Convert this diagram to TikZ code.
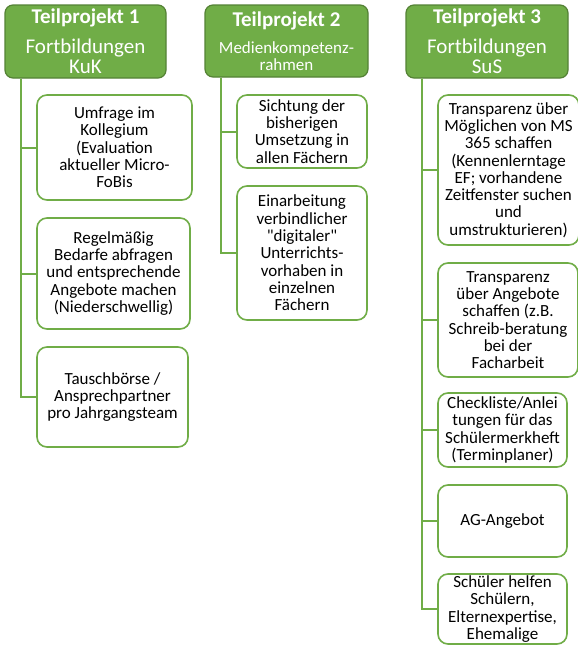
\documentclass[tikz,border=0pt]{standalone}
\usepackage{fontspec}
\setmainfont{Carlito}[Ligatures=TeXOff]
\definecolor{grn}{HTML}{70AD47}
\definecolor{grnd}{HTML}{548235}
\begin{document}
\begin{tikzpicture}[x=1pt,y=-1pt,
  hdr/.style={draw=grnd, fill=grn, line width=1.2pt, rounded corners=8pt, text=white, align=center, inner sep=0pt},
  item/.style={draw=grn, fill=white, line width=1.6pt, rounded corners=10pt, text=black, align=center, inner sep=0pt, font=\fontsize{17}{17.3}\selectfont},
  conn/.style={draw=grn, line width=2pt}]
\clip (0,0) rectangle (578,645);
\fill[white] (0,0) rectangle (578,645);

% headers
\node[hdr, minimum width=161pt, minimum height=73pt, font=\fontsize{21}{20}\selectfont] (h1) at (85.5,41.5)
  {{\bfseries Teilprojekt 1}\\[10pt]Fortbildungen\\KuK};
\node[hdr, minimum width=163pt, minimum height=72pt, font=\fontsize{17}{17}\selectfont] (h2) at (286.5,41)
  {{\bfseries\fontsize{21}{17}\selectfont Teilprojekt 2}\\[10pt]Medienkompetenz-\\rahmen};
\node[hdr, minimum width=162pt, minimum height=73pt, font=\fontsize{21}{20}\selectfont] (h3) at (487,41.5)
  {{\bfseries Teilprojekt 3}\\[10pt]Fortbildungen\\SuS};

% Teilprojekt 1
\node[item, minimum width=155pt, minimum height=105pt] (c1) at (114.5,147.5)
  {Umfrage im\\Kollegium\\(Evaluation\\aktueller Micro-\\FoBis};
\node[item, minimum width=153pt, minimum height=111pt] (c2) at (113.5,273.5)
  {Regelmäßig\\Bedarfe abfragen\\und entsprechende\\Angebote machen\\(Niederschwellig)};
\node[item, minimum width=151pt, minimum height=100pt] (c3) at (112.5,397)
  {Tauschbörse /\\Ansprechpartner\\pro Jahrgangsteam};

% Teilprojekt 2
\node[item, minimum width=130pt, minimum height=73pt] (d1) at (302,131.5)
  {Sichtung der\\bisherigen\\Umsetzung in\\allen Fächern};
\node[item, minimum width=130pt, minimum height=134pt] (d2) at (302,253)
  {Einarbeitung\\verbindlicher\\"digitaler"\\Unterrichts-\\vorhaben in\\einzelnen\\Fächern};

% Teilprojekt 3
\node[item, minimum width=141pt, minimum height=150pt] (f1) at (508.5,170)
  {Transparenz über\\Möglichen von MS\\365 schaffen\\(Kennenlerntage\\EF; vorhandene\\Zeitfenster suchen\\und\\umstrukturieren)};
\node[item, minimum width=140pt, minimum height=114pt] (f2) at (508,320)
  {Transparenz\\über Angebote\\schaffen (z.B.\\Schreib-beratung\\bei der\\Facharbeit};
\node[item, minimum width=129pt, minimum height=74pt] (f3) at (502.5,430)
  {Checkliste/Anlei\\tungen für das\\Schülermerkheft\\(Terminplaner)};
\node[item, minimum width=129pt, minimum height=72pt] (f4) at (502.5,521)
  {AG-Angebot};
\node[item, minimum width=129pt, minimum height=70pt] (f5) at (502.5,609)
  {Schüler helfen\\Schülern,\\Elternexpertise,\\Ehemalige};

% connectors
\foreach \c in {c1,c2,c3} \draw[conn] ([xshift=17pt]h1.south west) |- (\c.west);
\foreach \c in {d1,d2} \draw[conn] ([xshift=17pt]h2.south west) |- (\c.west);
\foreach \c in {f1,f2,f3,f4,f5} \draw[conn] ([xshift=17pt]h3.south west) |- (\c.west);
\end{tikzpicture}
\end{document}
